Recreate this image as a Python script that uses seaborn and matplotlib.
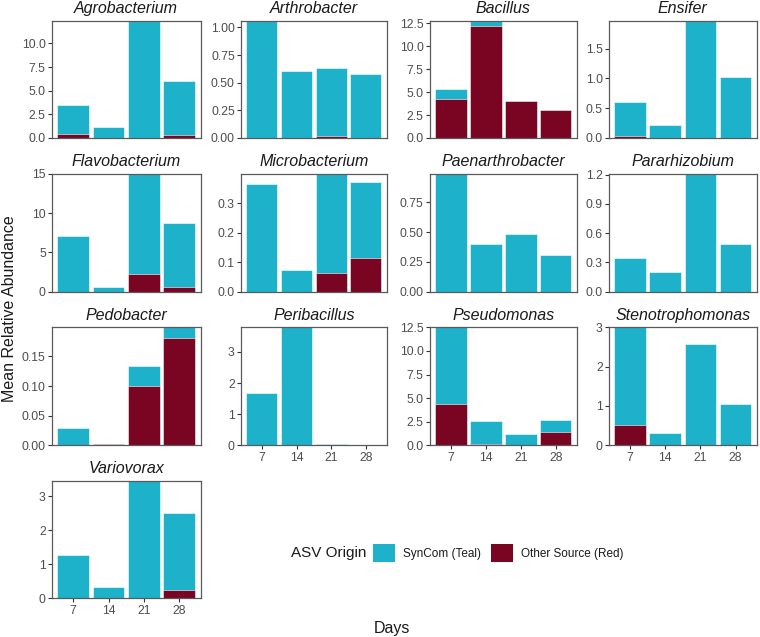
import numpy as np
import pandas as pd
import matplotlib
matplotlib.use("Agg")
import matplotlib.pyplot as plt
from matplotlib.patches import Patch
import seaborn as sns

sns.set_theme(style="white")
plt.rcParams['font.family'] = ['Liberation Sans', 'DejaVu Sans']

# ---------------- data ----------------
days = [7, 14, 21, 28]
genera = ["Agrobacterium", "Arthrobacter", "Bacillus", "Ensifer",
          "Flavobacterium", "Microbacterium", "Paenarthrobacter", "Pararhizobium",
          "Pedobacter", "Peribacillus", "Pseudomonas", "Stenotrophomonas",
          "Variovorax"]

# SynCom (teal) mean relative abundance per day
agrobacterium_syncom = [3.05, 1.17, 15.0, 5.74]
arthrobacter_syncom = [1.30, 0.605, 0.613, 0.578]
bacillus_syncom = [1.05, 1.30, 0.0, 0.0]
ensifer_syncom = [0.565, 0.224, 2.60, 1.02]
flavobacterium_syncom = [7.08, 0.59, 17.8, 8.14]
microbacterium_syncom = [0.365, 0.073, 0.438, 0.259]
paenarthrobacter_syncom = [1.20, 0.398, 0.482, 0.311]
pararhizobium_syncom = [0.345, 0.198, 1.50, 0.488]
pedobacter_syncom = [0.029, 0.0, 0.033, 0.029]
peribacillus_syncom = [1.67, 4.50, 0.03, 0.02]
pseudomonas_syncom = [11.6, 2.46, 1.19, 1.28]
stenotrophomonas_syncom = [3.08, 0.325, 2.57, 1.06]
variovorax_syncom = [1.28, 0.343, 4.20, 2.275]

# Other source (red) mean relative abundance per day
agrobacterium_other = [0.45, 0.0, 0.0, 0.30]
arthrobacter_other = [0.0, 0.0, 0.02, 0.0]
bacillus_other = [4.25, 12.2, 4.04, 3.09]
ensifer_other = [0.035, 0.0, 0.0, 0.0]
flavobacterium_other = [0.0, 0.0, 2.2, 0.59]
microbacterium_other = [0.0, 0.0, 0.062, 0.114]
paenarthrobacter_other = [0.0, 0.0, 0.0, 0.0]
pararhizobium_other = [0.0, 0.0, 0.0, 0.0]
pedobacter_other = [0.0, 0.003, 0.10, 0.181]
peribacillus_other = [0.0, 0.0, 0.0, 0.0]
pseudomonas_other = [4.40, 0.10, 0.05, 1.42]
stenotrophomonas_other = [0.52, 0.0, 0.0, 0.0]
variovorax_other = [0.0, 0.0, 0.0, 0.245]

syncom_lists = [agrobacterium_syncom, arthrobacter_syncom, bacillus_syncom, ensifer_syncom,
                flavobacterium_syncom, microbacterium_syncom, paenarthrobacter_syncom,
                pararhizobium_syncom, pedobacter_syncom, peribacillus_syncom,
                pseudomonas_syncom, stenotrophomonas_syncom, variovorax_syncom]
other_lists = [agrobacterium_other, arthrobacter_other, bacillus_other, ensifer_other,
               flavobacterium_other, microbacterium_other, paenarthrobacter_other,
               pararhizobium_other, pedobacter_other, peribacillus_other,
               pseudomonas_other, stenotrophomonas_other, variovorax_other]

# y display limits (coord zoom) and tick positions per panel
y_tops = [12.4, 1.06, 12.8, 1.97, 15.0, 0.40, 0.99, 1.21, 0.199, 3.79, 12.5, 3.0, 3.45]
y_ticks = [[0, 2.5, 5, 7.5, 10], [0, 0.25, 0.5, 0.75, 1.0], [0, 2.5, 5, 7.5, 10, 12.5],
           [0, 0.5, 1.0, 1.5], [0, 5, 10, 15], [0, 0.1, 0.2, 0.3], [0, 0.25, 0.5, 0.75],
           [0, 0.3, 0.6, 0.9, 1.2], [0, 0.05, 0.10, 0.15], [0, 1, 2, 3],
           [0, 2.5, 5, 7.5, 10, 12.5], [0, 1, 2, 3], [0, 1, 2, 3]]
y_fmt = ["{:.1f}", "{:.2f}", "{:.1f}", "{:.1f}", "{:.0f}", "{:.1f}", "{:.2f}",
         "{:.1f}", "{:.2f}", "{:.0f}", "{:.1f}", "{:.0f}", "{:.0f}"]

TEAL = "#1DB1CA"
RED = "#7A0522"
GREY = "#4D4D4D"

W, H = 760, 637
fig = plt.figure(figsize=(W / 100, H / 100), dpi=100)

col_x = [(52, 200.5), (241, 386.7), (430, 576.7), (609, 756.7)]
row_y = [(20.7, 138), (173.7, 291.7), (327.3, 445.3), (481, 598.3)]
# panels that show x tick labels (bottom of each column)
show_x = {9, 10, 11, 12}

for i, g in enumerate(genera):
    r, c = divmod(i, 4)
    x0, x1 = col_x[c]
    y0, y1 = row_y[r]
    ax = fig.add_axes([x0 / W, 1 - y1 / H, (x1 - x0) / W, (y1 - y0) / H])
    syn = np.array(syncom_lists[i])
    oth = np.array(other_lists[i])
    df = pd.DataFrame({"Day": [str(d) for d in days], "total": syn + oth, "other": oth})
    sns.barplot(data=df, x="Day", y="total", color=TEAL, width=0.9, ax=ax,
                edgecolor="white", linewidth=0.4, saturation=1)
    sns.barplot(data=df, x="Day", y="other", color=RED, width=0.9, ax=ax,
                edgecolor="white", linewidth=0.4, saturation=1)
    ax.set_xlim(-0.6, 3.6)
    ax.set_ylim(0, y_tops[i])
    ax.set_yticks(y_ticks[i])
    ax.set_yticklabels([y_fmt[i].format(t) for t in y_ticks[i]])
    ax.set_xlabel("")
    ax.set_ylabel("")
    for sp in ax.spines.values():
        sp.set_visible(True)
        sp.set_color("#5A5A5A")
        sp.set_linewidth(0.9)
    ax.tick_params(axis="y", length=3, width=0.8, color="#333333",
                   labelsize=8.7, labelcolor=GREY, pad=1.5, left=True)
    if i in show_x:
        ax.tick_params(axis="x", length=3, width=0.8, color="#333333",
                       labelsize=8.7, labelcolor=GREY, pad=1.5, bottom=True)
    else:
        ax.tick_params(axis="x", bottom=False, labelbottom=False)
    ax.set_title(g, fontstyle="italic", fontsize=11.5, color="#1A1A1A", pad=5.5)
    ax.set_facecolor("white")

fig.text(10 / W, 1 - 309 / H, "Mean Relative Abundance", rotation=90,
         ha="center", va="center", fontsize=11.5, color="#1A1A1A")
fig.text(392 / W, 1 - 628 / H, "Days", ha="center", va="center",
         fontsize=11.5, color="#1A1A1A")

fig.text(291 / W, 1 - 553 / H, "ASV Origin", ha="left", va="center",
         fontsize=11, color="#1A1A1A")
handles = [Patch(facecolor=TEAL, edgecolor="none", label="SynCom (Teal)"),
           Patch(facecolor=RED, edgecolor="none", label="Other Source (Red)")]
fig.legend(handles=handles, ncol=2, loc="center left",
           bbox_to_anchor=(373 / W, 1 - 553 / H), frameon=False,
           fontsize=8.5, handlelength=1.9, handleheight=1.9,
           handletextpad=0.65, columnspacing=0.8, borderpad=0, borderaxespad=0,
           labelcolor="#1A1A1A")

fig.savefig("out.png", dpi=100, facecolor="white")
